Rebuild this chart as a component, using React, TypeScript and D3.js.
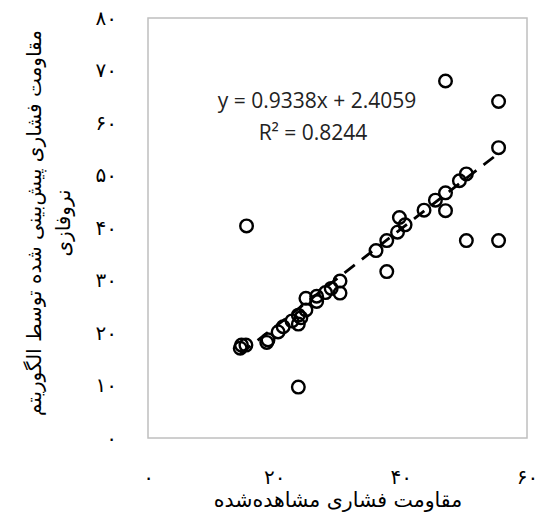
import React, { useRef, useEffect } from 'react';
import * as d3 from 'd3';

// observed vs predicted compressive strength
const observed = [47.1, 55.5, 55.5, 50.4, 49.3, 47.1, 45.5, 47.1, 43.7, 39.8, 40.7, 39.5, 37.8, 36.1, 37.8, 50.4, 55.5, 15.6,
  30.4, 30.4, 28.1, 26.7, 26.7, 25.0, 25.0, 23.8, 23.8, 22.8, 21.4, 20.6, 19.0, 18.8, 14.8, 15.5, 14.6, 23.8, 29.0, 24.2];
const predicted = [68.0, 64.1, 55.3, 50.3, 49.0, 46.7, 45.3, 43.3, 43.4, 42.0, 40.6, 39.2, 37.6, 35.7, 31.7, 37.6, 37.6, 40.4,
  29.9, 27.6, 27.7, 27.0, 26.0, 26.6, 24.4, 23.4, 21.7, 22.3, 21.2, 20.2, 18.7, 18.2, 17.7, 17.7, 17.1, 9.7, 28.5, 22.9];
const xTicks = [0, 20, 40, 60];
const yTicks = [0, 10, 20, 30, 40, 50, 60, 70, 80];
const slope = 0.9338;
const intercept = 2.4059;
const eqText = 'y = 0.9338x + 2.4059';
const r2Text = 'R² = 0.8244';
const xTitle = 'مقاومت فشاری مشاهده‌شده';
const yTitle1 = 'مقاومت فشاری پیش‌بینی شده توسط الگوریتم';
const yTitle2 = 'نروفازی';

const faDigits = (n: number) => String(n).replace(/\d/g, d => '۰۱۲۳۴۵۶۷۸۹'[+d]);

const W = 537, H = 517;
const box = { left: 148, right: 527, top: 18, bottom: 438 };
const faFont = '"DejaVu Sans", sans-serif';

export default function App() {
  const ref = useRef<SVGSVGElement>(null);

  useEffect(() => {
    if (!ref.current) return;
    const svg = d3.select(ref.current);
    svg.selectAll('*').remove();

    const x = d3.scaleLinear().domain([0, 60]).range([box.left, box.right]);
    const y = d3.scaleLinear().domain([0, 80]).range([box.bottom, box.top]);

    // plot area frame
    svg.append('rect')
      .attr('x', box.left).attr('y', box.top)
      .attr('width', box.right - box.left).attr('height', box.bottom - box.top)
      .attr('fill', 'white').attr('stroke', '#bfbfbf').attr('stroke-width', 1.5);

    // y ticks (detached from frame)
    const yAxis = svg.append('g')
      .attr('transform', `translate(${box.left - 28},0)`)
      .call(d3.axisLeft(y).tickValues(yTicks).tickSize(0).tickFormat(d => faDigits(+d)));
    yAxis.select('.domain').remove();
    yAxis.selectAll('text').attr('font-family', faFont).attr('font-size', 20).attr('fill', '#000');

    // x ticks
    const xAxis = svg.append('g')
      .attr('transform', `translate(0,${box.bottom + 29})`)
      .call(d3.axisBottom(x).tickValues(xTicks).tickSize(0).tickFormat(d => faDigits(+d)));
    xAxis.select('.domain').remove();
    xAxis.selectAll('text').attr('font-family', faFont).attr('font-size', 20).attr('fill', '#000');

    // trendline
    const [x0, x1] = d3.extent(observed) as [number, number];
    svg.append('line')
      .attr('x1', x(x0)).attr('y1', y(slope * x0 + intercept))
      .attr('x2', x(x1)).attr('y2', y(slope * x1 + intercept))
      .attr('stroke', '#000').attr('stroke-width', 2.8)
      .attr('stroke-dasharray', '13,9');

    // markers
    svg.append('g').selectAll('circle')
      .data(observed)
      .enter().append('circle')
      .attr('cx', d => x(d))
      .attr('cy', (_, i) => y(predicted[i]))
      .attr('r', 6.3)
      .attr('fill', 'none').attr('stroke', '#000').attr('stroke-width', 2.4);

    // equation label
    svg.append('text')
      .attr('x', 317).attr('y', 108)
      .attr('text-anchor', 'middle').attr('font-family', '"Open Sans", sans-serif')
      .attr('font-size', 21).attr('fill', '#222')
      .text(eqText);
    svg.append('text')
      .attr('x', 313).attr('y', 140)
      .attr('text-anchor', 'middle').attr('font-family', '"Open Sans", sans-serif')
      .attr('font-size', 21).attr('fill', '#222')
      .text(r2Text);

    // axis titles
    svg.append('text')
      .attr('x', 338).attr('y', 507)
      .attr('text-anchor', 'middle').attr('direction', 'rtl')
      .attr('font-family', faFont).attr('font-size', 20.5).attr('fill', '#000')
      .text(xTitle);

    const yt = svg.append('g').attr('transform', `translate(0,223) rotate(-90)`);
    yt.append('text')
      .attr('x', 0).attr('y', 41)
      .attr('text-anchor', 'middle')
      .attr('font-family', faFont).attr('font-size', 20).attr('fill', '#000')
      .text(yTitle1);
    yt.append('text')
      .attr('x', 0).attr('y', 70)
      .attr('text-anchor', 'middle')
      .attr('font-family', faFont).attr('font-size', 20).attr('fill', '#000')
      .text(yTitle2);
  }, []);

  return (
    <svg ref={ref} width={W} height={H}
      style={{ position: 'absolute', left: 0, top: 0, background: 'white' }} />
  );
}
